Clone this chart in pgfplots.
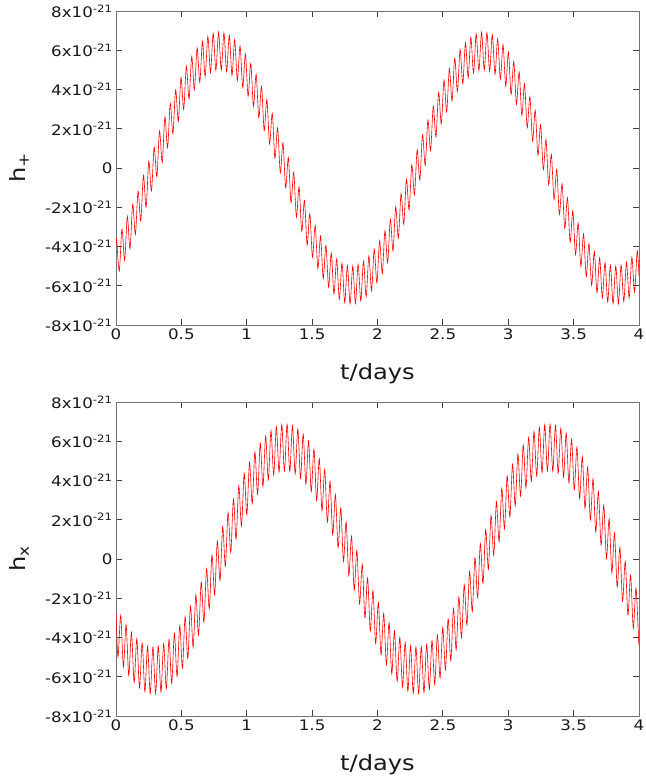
\documentclass[border=0pt]{standalone}
\usepackage{fontspec}
\setmainfont{DejaVu Sans}[FakeStretch=1.15]
\usepackage{pgfplots}
\usepackage{pgfplotstable}
\pgfplotsset{compat=1.18}

\pgfplotstableread{
t h
0 -3.88
0.0045 -3.61
0.0250 -5.25
0.0456 -3.11
0.0661 -4.71
0.0866 -2.46
0.1071 -4.12
0.1277 -1.84
0.1482 -3.38
0.1687 -1.18
0.1892 -2.70
0.2098 -0.38
0.2303 -2.00
0.2508 0.34
0.2713 -1.17
0.2919 1.06
0.3124 -0.44
0.3329 1.89
0.3534 0.28
0.3740 2.60
0.3945 1.03
0.4150 3.29
0.4355 1.75
0.4561 3.98
0.4766 2.38
0.4971 4.61
0.5176 2.99
0.5382 5.18
0.5587 3.52
0.5792 5.68
0.5997 3.99
0.6203 6.11
0.6408 4.37
0.6613 6.45
0.6818 4.67
0.7024 6.70
0.7229 4.87
0.7434 6.86
0.7639 4.98
0.7845 6.92
0.8050 4.99
0.8255 6.88
0.8460 4.91
0.8666 6.75
0.8871 4.73
0.9076 6.53
0.9281 4.46
0.9487 6.21
0.9692 4.10
0.9897 5.81
1.0102 3.66
1.0308 5.33
1.0513 3.14
1.0718 4.77
1.0923 2.55
1.1129 4.16
1.1334 1.91
1.1539 3.49
1.1744 1.22
1.1950 2.79
1.2155 0.50
1.2360 2.05
1.2565 -0.25
1.2771 1.29
1.2976 -1.01
1.3181 0.53
1.3386 -1.77
1.3592 -0.22
1.3797 -2.51
1.4002 -0.96
1.4207 -3.23
1.4413 -1.66
1.4618 -3.92
1.4823 -2.32
1.5028 -4.55
1.5234 -2.93
1.5439 -5.13
1.5644 -3.47
1.5849 -5.64
1.6055 -3.94
1.6260 -6.07
1.6465 -4.33
1.6670 -6.42
1.6876 -4.64
1.7081 -6.68
1.7286 -4.85
1.7491 -6.85
1.7697 -4.97
1.7902 -6.92
1.8107 -5.00
1.8312 -6.89
1.8518 -4.92
1.8723 -6.77
1.8928 -4.75
1.9133 -6.55
1.9339 -4.49
1.9544 -6.25
1.9749 -4.14
1.9954 -5.85
2.0160 -3.71
2.0365 -5.38
2.0570 -3.20
2.0775 -4.83
2.0981 -2.62
2.1186 -4.23
2.1391 -1.98
2.1596 -3.57
2.1802 -1.30
2.2007 -2.86
2.2212 -0.58
2.2417 -2.13
2.2623 0.17
2.2828 -1.37
2.3033 0.93
2.3238 -0.61
2.3444 1.69
2.3649 0.14
2.3854 2.44
2.4059 0.88
2.4265 3.16
2.4470 1.59
2.4675 3.85
2.4880 2.25
2.5086 4.48
2.5291 2.87
2.5496 5.07
2.5701 3.42
2.5907 5.59
2.6112 3.90
2.6317 6.03
2.6522 4.30
2.6728 6.38
2.6933 4.61
2.7138 6.66
2.7343 4.84
2.7549 6.83
2.7754 4.97
2.7959 6.91
2.8164 5.00
2.8370 6.90
2.8575 4.94
2.8780 6.79
2.8985 4.78
2.9191 6.58
2.9396 4.52
2.9601 6.28
2.9806 4.18
3.0012 5.90
3.0217 3.75
3.0422 5.43
3.0627 3.25
3.0833 4.89
3.1038 2.68
3.1243 4.29
3.1448 2.05
3.1654 3.64
3.1859 1.37
3.2064 2.94
3.2269 0.65
3.2475 2.20
3.2680 -0.09
3.2885 1.45
3.3090 -0.85
3.3296 0.69
3.3501 -1.61
3.3706 -0.07
3.3911 -2.36
3.4117 -0.81
3.4322 -3.08
3.4527 -1.51
3.4732 -3.78
3.4938 -2.19
3.5143 -4.42
3.5348 -2.81
3.5553 -5.01
3.5759 -3.36
3.5964 -5.54
3.6169 -3.85
3.6374 -5.98
3.6580 -4.26
3.6785 -6.35
3.6990 -4.58
3.7195 -6.63
3.7401 -4.82
3.7606 -6.82
3.7811 -4.96
3.8016 -6.91
3.8222 -5.00
3.8427 -6.91
3.8632 -4.95
3.8837 -6.80
3.9043 -4.80
3.9248 -6.61
3.9453 -4.55
3.9658 -6.32
3.9864 -4.22
4.0000 -5.52
}\hplus

\pgfplotstableread{
t h
0 -2.73
0.0155 -4.99
0.0360 -2.87
0.0566 -5.50
0.0771 -3.34
0.0976 -5.93
0.1181 -3.74
0.1387 -6.29
0.1592 -4.06
0.1797 -6.57
0.2002 -4.29
0.2208 -6.76
0.2413 -4.44
0.2618 -6.86
0.2823 -4.49
0.3029 -6.86
0.3234 -4.45
0.3439 -6.78
0.3644 -4.32
0.3850 -6.60
0.4055 -4.10
0.4260 -6.33
0.4465 -3.79
0.4671 -5.98
0.4876 -3.40
0.5081 -5.56
0.5286 -2.94
0.5492 -5.06
0.5697 -2.40
0.5902 -4.50
0.6107 -1.82
0.6313 -3.88
0.6518 -1.18
0.6723 -3.22
0.6928 -0.50
0.7134 -2.53
0.7339 0.20
0.7544 -1.82
0.7749 0.92
0.7955 -1.09
0.8160 1.65
0.8365 -0.37
0.8570 2.37
0.8776 0.34
0.8981 3.06
0.9186 1.02
0.9391 3.73
0.9597 1.67
0.9802 4.36
1.0007 2.27
1.0212 4.93
1.0418 2.82
1.0623 5.45
1.0828 3.30
1.1033 5.89
1.1239 3.70
1.1444 6.26
1.1649 4.03
1.1854 6.54
1.2060 4.27
1.2265 6.74
1.2470 4.43
1.2675 6.85
1.2881 4.49
1.3086 6.87
1.3291 4.46
1.3496 6.79
1.3702 4.34
1.3907 6.62
1.4112 4.12
1.4317 6.36
1.4523 3.82
1.4728 6.02
1.4933 3.44
1.5138 5.60
1.5344 2.99
1.5549 5.11
1.5754 2.46
1.5959 4.56
1.6165 1.88
1.6370 3.95
1.6575 1.24
1.6780 3.29
1.6986 0.57
1.7191 2.60
1.7396 -0.13
1.7601 1.89
1.7807 -0.85
1.8012 1.17
1.8217 -1.58
1.8422 0.44
1.8628 -2.29
1.8833 -0.27
1.9038 -2.99
1.9243 -0.96
1.9449 -3.67
1.9654 -1.61
1.9859 -4.30
2.0064 -2.21
2.0270 -4.88
2.0475 -2.77
2.0680 -5.40
2.0885 -3.25
2.1091 -5.85
2.1296 -3.67
2.1501 -6.23
2.1706 -4.00
2.1912 -6.52
2.2117 -4.25
2.2322 -6.73
2.2527 -4.42
2.2733 -6.84
2.2938 -4.49
2.3143 -6.87
2.3348 -4.47
2.3554 -6.80
2.3759 -4.35
2.3964 -6.64
2.4169 -4.15
2.4375 -6.39
2.4580 -3.86
2.4785 -6.06
2.4990 -3.49
2.5196 -5.65
2.5401 -3.04
2.5606 -5.17
2.5811 -2.52
2.6017 -4.62
2.6222 -1.94
2.6427 -4.01
2.6632 -1.31
2.6838 -3.36
2.7043 -0.64
2.7248 -2.68
2.7453 0.06
2.7659 -1.97
2.7864 0.78
2.8069 -1.24
2.8274 1.50
2.8480 -0.52
2.8685 2.22
2.8890 0.19
2.9095 2.92
2.9301 0.89
2.9506 3.60
2.9711 1.54
2.9916 4.23
3.0122 2.15
3.0327 4.82
3.0532 2.71
3.0737 5.35
3.0943 3.21
3.1148 5.81
3.1353 3.63
3.1558 6.19
3.1764 3.97
3.1969 6.49
3.2174 4.23
3.2379 6.71
3.2585 4.40
3.2790 6.84
3.2995 4.48
3.3200 6.87
3.3406 4.47
3.3611 6.81
3.3816 4.37
3.4021 6.66
3.4227 4.17
3.4432 6.42
3.4637 3.89
3.4842 6.10
3.5048 3.53
3.5253 5.70
3.5458 3.09
3.5663 5.22
3.5869 2.58
3.6074 4.68
3.6279 2.00
3.6484 4.08
3.6690 1.38
3.6895 3.43
3.7100 0.71
3.7305 2.75
3.7511 0.02
3.7716 2.04
3.7921 -0.70
3.8126 1.32
3.8332 -1.43
3.8537 0.59
3.8742 -2.15
3.8947 -0.12
3.9153 -2.85
3.9358 -0.82
3.9563 -3.53
3.9768 -1.48
3.9974 -4.17
4.0000 -4.16
}\hcross

\pgfplotsset{
  gwaxis/.style={
    scale only axis,
    width=523pt, height=314pt,
    xmin=0, xmax=4, ymin=-8, ymax=8,
    xtick={0,0.5,1,1.5,2,2.5,3,3.5,4},
    xticklabels={0,0.5,1,1.5,2,2.5,3,3.5,4},
    ytick={-8,-6,-4,-2,0,2,4,6,8},
    yticklabels={-8x10\textsuperscript{-21},-6x10\textsuperscript{-21},-4x10\textsuperscript{-21},-2x10\textsuperscript{-21},0,2x10\textsuperscript{-21},4x10\textsuperscript{-21},6x10\textsuperscript{-21},8x10\textsuperscript{-21}},
    tick align=inside,
    tick pos=both,
    major tick length=6pt,
    tick style={black!75, line width=0.8pt},
    axis line style={black!55, line width=0.8pt},
    tick label style={font=\fontsize{14.5}{17}\selectfont, text=black!90},
    label style={font=\fontsize{21}{25}\selectfont, text=black!90},
    xlabel={t/days},
    xlabel style={at={(axis description cs:0.5,-0.155)}, anchor=center},
    ylabel style={at={(axis description cs:-0.185,0.5)}, anchor=center},
  }
}

\begin{document}
\begin{tikzpicture}
\useasboundingbox (0pt,0pt) rectangle (645pt,778pt);
\begin{axis}[gwaxis, at={(116pt,453pt)}, anchor=south west, ylabel={h\textsubscript{+}}]
\addplot[red, line width=0.6pt, smooth, no markers] table[x=t, y=h] {\hplus};
\end{axis}
\begin{axis}[gwaxis, at={(116pt,62pt)}, anchor=south west, ylabel={h\textsubscript{x}}]
\addplot[red, line width=0.6pt, smooth, no markers] table[x=t, y=h] {\hcross};
\end{axis}
\end{tikzpicture}
\end{document}
